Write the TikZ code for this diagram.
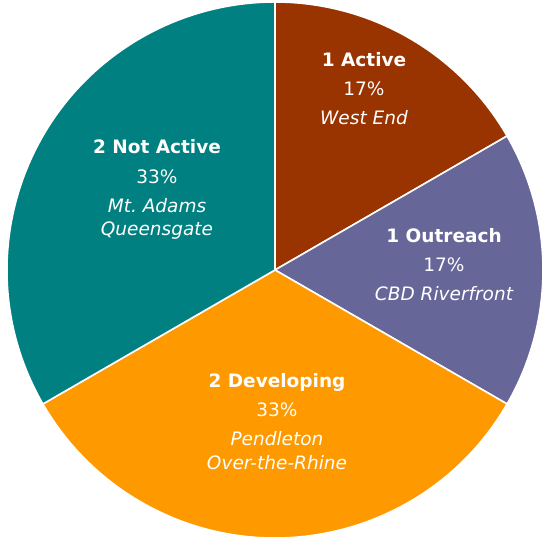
\documentclass[tikz,border=0pt]{standalone}
\usepackage{fontspec}
\setmainfont{DejaVu Sans}
\definecolor{cActive}{HTML}{993300}
\definecolor{cOutreach}{HTML}{666699}
\definecolor{cDev}{HTML}{FF9900}
\definecolor{cNot}{HTML}{008080}
\begin{document}
\begin{tikzpicture}[x=1pt,y=1pt,
  lbl/.style={text=white,inner sep=0pt,text height=13.5pt,text depth=4pt,font=\fontsize{18.5}{22}\selectfont},
  hd/.style={lbl,font=\fontsize{18.5}{22}\selectfont\bfseries},
  it/.style={lbl,font=\fontsize{18.5}{22}\selectfont\itshape},
  slice/.style={draw=white,line width=1.6pt,line join=round}]
\useasboundingbox (0,0) rectangle (542,540);
\clip (0,0) rectangle (542,540);
\coordinate (c) at (275,270);
\def\R{268}
\path[slice,fill=cActive] (c) -- ++(90:\R) arc[start angle=90,end angle=30,radius=\R] -- cycle;
\path[slice,fill=cOutreach] (c) -- ++(30:\R) arc[start angle=30,end angle=-30,radius=\R] -- cycle;
\path[slice,fill=cDev] (c) -- ++(-30:\R) arc[start angle=-30,end angle=-150,radius=\R] -- cycle;
\path[slice,fill=cNot] (c) -- ++(-150:\R) arc[start angle=-150,end angle=-270,radius=\R] -- cycle;
% Active
\node[hd] (a1) at (364,478) {1 Active};
\node[lbl] (a2) at (364,449) {17\%};
\node[it] (a3) at (364,420) {West End};
% Outreach
\node[hd] (o1) at (444,302) {1 Outreach};
\node[lbl] (o2) at (444,273) {17\%};
\node[it] (o3) at (444,244) {CBD Riverfront};
% Developing
\node[hd] (d1) at (277,157) {2 Developing};
\node[lbl] (d2) at (277,128) {33\%};
\node[it] (d3) at (277,99) {Pendleton};
\node[it] (d4) at (277,75) {Over-the-Rhine};
% Not active
\node[hd] (n1) at (157,391) {2 Not Active};
\node[lbl] (n2) at (157,361) {33\%};
\node[it] (n3) at (157,332) {Mt.\ Adams};
\node[it] (n4) at (157,309) {Queensgate};
\end{tikzpicture}
\end{document}
